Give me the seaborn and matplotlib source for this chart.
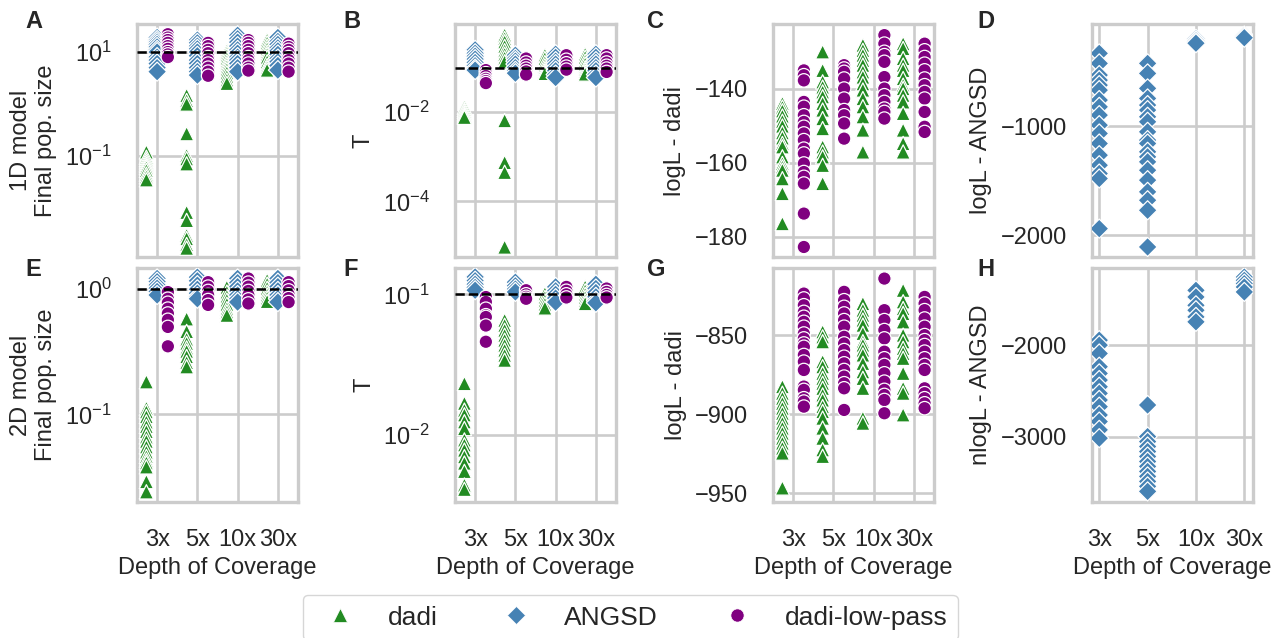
import numpy as np
import pandas as pd
import matplotlib
matplotlib.use("Agg")
import matplotlib.pyplot as plt
import seaborn as sns
from matplotlib.lines import Line2D

COVERAGES = ["3x", "5x", "10x", "30x"]
METHODS = ["dadi", "ANGSD", "dadi-low-pass"]
COLORS = ["forestgreen", "steelblue", "purple"]
MARKERS = ["^", "D", "o"]

# ---------------- Panel A: 1D model, final pop. size ----------------
A_dadi = {"3x": [0.12, 0.095, 0.085, 0.077, 0.07, 0.065, 0.06, 0.053, 0.045, 0.04, 0.035],
          "5x": [1.47, 1.17, 1.0, 0.27, 0.103, 0.089, 0.071, 0.0083, 0.0058, 0.003, 0.0026, 0.002, 0.0017],
          "10x": [10.5, 9.5, 8.5, 7.5, 6.5, 5.8, 5.2, 4.6, 4.0, 3.4, 2.9, 2.5],
          "30x": [17, 15, 13, 11.5, 10, 9, 8, 6.5, 5.5, 5, 4.5]}
A_angsd = {"3x": [19, 17, 15.5, 14, 12.5, 11, 10, 8, 7, 6, 5, 4.2],
           "5x": [17, 15, 13, 11.5, 10, 8.5, 7, 6, 5, 4.2, 3.6],
           "10x": [21, 18, 15.5, 13, 11, 9.5, 8, 7, 6, 5, 4.2],
           "30x": [19, 16, 14, 12, 10.5, 9, 7.5, 6.5, 5.5, 4.5]}
A_lowpass = {"3x": [22, 19, 17, 15, 13, 11.5, 10, 9, 8],
             "5x": [15, 13, 11, 9.5, 8, 7, 6, 5, 4.2, 3.5],
             "10x": [17, 15, 13, 11, 9.5, 8, 7, 6, 5, 4.4],
             "30x": [14.5, 12.5, 11, 9.5, 8, 7, 6, 5, 4.2]}

# ---------------- Panel B: 1D model, T ----------------
B_dadi = {"3x": [0.013, 0.0115, 0.0105, 0.0095, 0.0088, 0.0082, 0.0077],
          "5x": [0.54, 0.45, 0.38, 0.3, 0.24, 0.2, 0.165, 0.135, 0.0065, 0.00075, 0.00045, 0.0000095],
          "10x": [0.19, 0.16, 0.13, 0.11, 0.095, 0.085, 0.078, 0.074],
          "30x": [0.2, 0.17, 0.14, 0.12, 0.1, 0.09, 0.08, 0.072]}
B_angsd = {"3x": [0.25, 0.21, 0.18, 0.155, 0.13, 0.11, 0.095, 0.088],
           "5x": [0.19, 0.16, 0.14, 0.12, 0.1, 0.085, 0.075],
           "10x": [0.2, 0.17, 0.14, 0.12, 0.1, 0.085, 0.07, 0.06],
           "30x": [0.2, 0.17, 0.14, 0.12, 0.1, 0.085, 0.07, 0.06]}
B_lowpass = {"3x": [0.088, 0.075, 0.065, 0.056, 0.05, 0.045],
             "5x": [0.16, 0.13, 0.11, 0.095, 0.082, 0.07],
             "10x": [0.19, 0.15, 0.125, 0.105, 0.09],
             "30x": [0.19, 0.16, 0.13, 0.11, 0.095, 0.08]}

# ---------------- Panel C: 1D model, logL dadi ----------------
C_dadi = {"3x": [-144, -145, -146, -147.4, -148.8, -150.1, -151.9, -153.3, -154.8, -155.7, -158.4,
                 -160.2, -161.1, -162, -164.3, -168.3, -176.4],
          "5x": [-130.1, -135.1, -138.2, -139.6, -140.9, -142.2, -144, -145.8, -148.1, -150.8, -155.7,
                 -157.1, -158.4, -160.7, -165.6],
          "10x": [-128.3, -129.7, -131, -132.4, -133.7, -135.5, -136.9, -138.7, -140.4, -142.7, -144.9,
                  -147.6, -151.2, -157.1],
          "30x": [-127.9, -129.2, -131.9, -133.7, -135.1, -137.3, -139.1, -140, -141.8, -143.6, -146.7,
                  -151.2, -154.8, -157.1]}
C_lowpass = {"3x": [-135.1, -136.4, -137.8, -143.6, -144.9, -147.2, -149, -150.3, -152.1, -153.9, -156.2,
                    -157.5, -160.2, -162.5, -163.8, -165.6, -173.7, -182.7],
             "5x": [-133.7, -134.6, -135.5, -137.3, -140, -142.7, -145.8, -147.2, -149.4, -153.5],
             "10x": [-125.6, -127.9, -130.1, -131, -132.8, -136.9, -140, -141.8, -143.6, -145.4, -146.3, -148.1],
             "30x": [-127.9, -129.7, -131.5, -133.3, -135.1, -137.3, -139.1, -140.9, -142.7, -146.3, -150.3, -151.7]}

# ---------------- Panel D: 1D model, logL ANGSD ----------------
D_angsd = {"3x": [-333, -425, -532, -578, -624, -670, -761, -823, -899, -991, -1067, -1159, -1266, -1358,
                  -1434, -1480, -1939],
           "5x": [-425, -517, -654, -746, -807, -853, -914, -960, -1052, -1128, -1159, -1235, -1281, -1327,
                  -1404, -1495, -1602, -1679, -1771, -2107],
           "10x": [-200, -215, -230, -240],
           "30x": [-170, -180, -190]}

# ---------------- Panel E: 2D model, final pop. size ----------------
E_dadi = {"3x": [0.182, 0.112, 0.105, 0.096, 0.087, 0.080, 0.073, 0.066, 0.061, 0.055, 0.050, 0.046,
                 0.043, 0.041, 0.038, 0.029, 0.024],
          "5x": [0.58, 0.46, 0.40, 0.37, 0.34, 0.32, 0.29, 0.26, 0.24],
          "10x": [1.04, 0.95, 0.88, 0.82, 0.76, 0.7, 0.66, 0.62],
          "30x": [1.18, 1.1, 1.02, 0.95, 0.9, 0.85, 0.8]}
E_angsd = {"3x": [1.22, 1.15, 1.08, 1.02, 0.96, 0.9],
           "5x": [1.25, 1.17, 1.08, 1.0, 0.93, 0.87, 0.84],
           "10x": [1.22, 1.13, 1.05, 0.97, 0.9, 0.84, 0.79],
           "30x": [1.22, 1.13, 1.05, 0.97, 0.9, 0.84, 0.79]}
E_lowpass = {"3x": [0.95, 0.84, 0.78, 0.70, 0.64, 0.57, 0.50, 0.35],
             "5x": [1.14, 1.05, 0.97, 0.9, 0.82, 0.75],
             "10x": [1.22, 1.13, 1.05, 0.97, 0.9, 0.83, 0.77],
             "30x": [1.14, 1.06, 0.98, 0.91, 0.85, 0.79]}

# ---------------- Panel F: 2D model, T ----------------
F_dadi = {"3x": [0.0232, 0.0168, 0.0150, 0.0139, 0.0124, 0.0111, 0.0092, 0.0085, 0.0078, 0.0070,
                 0.0063, 0.0055, 0.0044, 0.0041],
          "5x": [0.0654, 0.0603, 0.0556, 0.0512, 0.0472, 0.0435, 0.0401, 0.0369, 0.0340],
          "10x": [0.101, 0.095, 0.09, 0.085, 0.08],
          "30x": [0.113, 0.106, 0.1, 0.095, 0.09, 0.086]}
F_angsd = {"3x": [0.133, 0.125, 0.118, 0.112, 0.107],
           "5x": [0.122, 0.115, 0.109, 0.104],
           "10x": [0.113, 0.106, 0.1, 0.094, 0.088],
           "30x": [0.118, 0.11, 0.103, 0.096, 0.09, 0.087]}
F_lowpass = {"3x": [0.0957, 0.0883, 0.079, 0.071, 0.069, 0.060, 0.046],
             "5x": [0.107, 0.1, 0.096, 0.093],
             "10x": [0.113, 0.106, 0.1, 0.095],
             "30x": [0.11, 0.104, 0.099, 0.095]}

# ---------------- Panel G: 2D model, logL dadi ----------------
G_dadi = {"3x": [-882.6, -886.8, -890, -893.2, -896.3, -899.5, -902.6, -905.8, -908.9, -912.1, -915.3,
                 -918.4, -921.6, -924.7, -946.8],
          "5x": [-847.9, -851.1, -854.2, -866.8, -870, -874.2, -877.4, -880.5, -883.7, -887.9, -891.1,
                 -895.3, -898.4, -902.6, -908.9, -915.3, -922.6, -926.8],
          "10x": [-830, -834.2, -837.4, -840.5, -843.7, -848.9, -854.2, -856.3, -859.5, -862.6, -867.9,
                  -873.2, -877.4, -883.7, -902.6, -905.8],
          "30x": [-821.6, -828.9, -833.2, -836.3, -841.6, -850, -854.2, -858.4, -861.6, -864.7, -874.2,
                  -883.7, -886.8, -900.5]}
G_lowpass = {"3x": [-823.7, -826.8, -831.1, -835.3, -838.4, -841.6, -844.7, -849, -852.1, -855.3, -857.4,
                    -862.6, -866.8, -872.1, -882.6, -884.7, -890, -892.1, -895.3],
             "5x": [-822.6, -827.9, -832.1, -836.3, -840.5, -844.7, -851.1, -855.3, -859.5, -863.7, -867.9,
                    -872.1, -876.3, -880.5, -883.7, -897.4],
             "10x": [-814.2, -834.2, -840.5, -846.8, -852.1, -860.5, -864.7, -868.9, -874.2, -879.5, -884.7,
                     -887.9, -891.1, -899.5],
             "30x": [-825.8, -830, -834.2, -839.5, -844.7, -850, -853.2, -856.3, -860.5, -864.7, -868.9,
                     -872.1, -883.7, -886.8, -890, -893.2, -896.3]}

# ---------------- Panel H: 2D model, nlogL ANGSD ----------------
H_angsd = {"3x": [-1945, -2000, -2091, -2236, -2309, -2382, -2455, -2527, -2600, -2673, -2764, -2836,
                  -2927, -3018],
           "5x": [-2655, -3000, -3055, -3109, -3164, -3218, -3273, -3327, -3382, -3436, -3491, -3545, -3600],
           "10x": [-1400, -1473, -1564, -1618, -1691, -1745],
           "30x": [-1255, -1291, -1327, -1364, -1418]}

TRUE_NU_1D = 10
TRUE_NU_2D = 1
TRUE_T = 0.1

# ---------------- styling ----------------
sns.set_theme(style="whitegrid")
plt.rcParams["font.family"] = ["Liberation Sans", "DejaVu Sans"]
FS = 17
plt.rcParams.update({
    "font.size": FS, "axes.labelsize": FS, "xtick.labelsize": FS, "ytick.labelsize": FS,
    "legend.fontsize": 19, "axes.edgecolor": "0.8", "grid.color": "0.8",
    "axes.linewidth": 2.4, "grid.linewidth": 1.9,
})


def to_long(method_dicts):
    rows = []
    for method, d in method_dicts.items():
        for cov in COVERAGES:
            for v in d.get(cov, []):
                rows.append({"coverage": cov, "value": v, "method": method})
    return pd.DataFrame(rows)


W, H = 1285, 638
fig = plt.figure(figsize=(W / 100, H / 100), dpi=100)
col_left = [137, 455, 773, 1092]
row_top = [24, 268]
row_bottom = [257, 502]
AX_W = 161

panels = [
    ("A", 0, 0, {"dadi": A_dadi, "ANGSD": A_angsd, "dadi-low-pass": A_lowpass},
     "1D model\nFinal pop. size", True, (0.00115, 34.6), [0.1, 10], TRUE_NU_1D, (-0.5, 3.5)),
    ("B", 0, 1, {"dadi": B_dadi, "ANGSD": B_angsd, "dadi-low-pass": B_lowpass},
     "T", True, (5.7e-6, 0.95), [1e-4, 1e-2], TRUE_T, (-0.5, 3.5)),
    ("C", 0, 2, {"dadi": C_dadi, "dadi-low-pass": C_lowpass},
     "logL - dadi", False, (-185.4, -122.6), [-180, -160, -140], None, (-0.5, 3.5)),
    ("D", 0, 3, {"ANGSD": D_angsd},
     "logL - ANGSD", False, (-2199, -64), [-2000, -1000], None, (-0.15, 3.18)),
    ("E", 1, 0, {"dadi": E_dadi, "ANGSD": E_angsd, "dadi-low-pass": E_lowpass},
     "2D model\nFinal pop. size", True, (0.0199, 1.48), [0.1, 1], TRUE_NU_2D, (-0.5, 3.5)),
    ("F", 1, 1, {"dadi": F_dadi, "ANGSD": F_angsd, "dadi-low-pass": F_lowpass},
     "T", True, (0.00333, 0.154), [0.01, 0.1], TRUE_T, (-0.5, 3.5)),
    ("G", 1, 2, {"dadi": G_dadi, "dadi-low-pass": G_lowpass},
     "logL - dadi", False, (-955.7, -807.5), [-950, -900, -850], None, (-0.5, 3.5)),
    ("H", 1, 3, {"ANGSD": H_angsd},
     "nlogL - ANGSD", False, (-3716, -1156), [-3000, -2000], None, (-0.15, 3.18)),
]

palette = dict(zip(METHODS, COLORS))
marker_of = dict(zip(METHODS, MARKERS))

for letter, r, c, mdicts, ylabel, logy, ylim, yticks, hline, xlim in panels:
    l = col_left[c] / W
    b = 1 - row_bottom[r] / H
    h = (row_bottom[r] - row_top[r]) / H
    ax = fig.add_axes([l, b, AX_W / W, h])
    df = to_long(mdicts)
    for m in METHODS:
        sub = df[df["method"] == m]
        if sub.empty:
            continue
        sns.stripplot(data=sub, x="coverage", y="value", hue="method", order=COVERAGES,
                      hue_order=METHODS, palette=palette, dodge=True, jitter=False,
                      marker=marker_of[m], size=9.7 if m != "dadi" else 10.3,
                      linewidth=0.9, edgecolor="white", ax=ax, legend=False)
    if logy:
        ax.set_yscale("log")
        ax.minorticks_off()
    if hline is not None:
        ax.axhline(hline, color="black", ls="--", lw=1.8, zorder=5)
    ax.set_ylim(*ylim)
    ax.set_yticks(yticks)
    ax.set_xlim(*xlim)
    ax.xaxis.grid(True)
    ax.yaxis.grid(True)
    ax.set_axisbelow(True)
    ax.set_ylabel(ylabel, labelpad=6)
    ax.tick_params(axis="y", length=0, pad=18)
    ax.tick_params(axis="x", length=0, pad=19.5)
    if r == 0:
        ax.tick_params(axis="x", labelbottom=False)
        ax.set_xlabel("")
    else:
        ax.set_xlabel("Depth of Coverage", labelpad=4)
    for sp in ax.spines.values():
        sp.set_color("0.8")
        sp.set_linewidth(2.4)
    lx = {0: 25, 1: 343, 2: 647, 3: 977}[c]
    ly = {0: 10, 1: 258}[r]
    fig.text(lx / W, 1 - ly / H, letter, fontsize=17, fontweight="bold", ha="left", va="top",
             color="0.15")

handles = [Line2D([], [], marker=mk, color=col, linestyle="", markersize=9.5,
                  markeredgecolor="white", markeredgewidth=0.5)
           for mk, col in zip(MARKERS, COLORS)]
fig.legend(handles, METHODS, loc="upper left", bbox_to_anchor=(303 / W, 1 - 595 / H),
           ncol=3, frameon=True, fontsize=19, handlelength=2.0, handletextpad=0.8,
           columnspacing=2.0, borderaxespad=0, borderpad=0.4, fancybox=True, edgecolor="0.8")

fig.savefig("out.png", dpi=100)
